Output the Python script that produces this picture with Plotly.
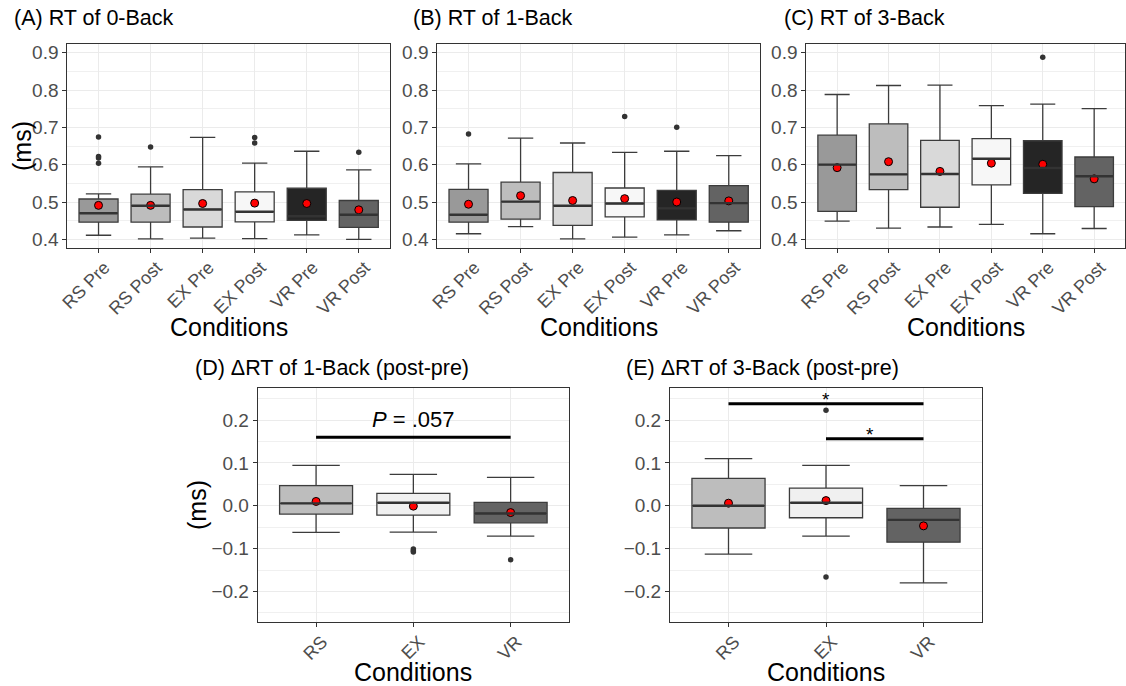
import plotly.graph_objects as go

# ---------------- data ----------------
conds6 = ["RS Pre", "RS Post", "EX Pre", "EX Post", "VR Pre", "VR Post"]
conds3 = ["RS", "EX", "VR"]

# (A) RT of 0-Back
a_lo = [0.411, 0.401, 0.403, 0.402, 0.412, 0.400]
a_q1 = [0.446, 0.446, 0.433, 0.447, 0.451, 0.432]
a_med = [0.470, 0.490, 0.480, 0.474, 0.462, 0.466]
a_q3 = [0.508, 0.521, 0.533, 0.527, 0.537, 0.504]
a_hi = [0.522, 0.594, 0.673, 0.604, 0.636, 0.586]
a_mean = [0.491, 0.491, 0.496, 0.497, 0.496, 0.479]
a_out = [[0.674, 0.622, 0.618, 0.604], [0.647], [], [0.673, 0.658], [], [0.633]]

# (B) RT of 1-Back
b_lo = [0.415, 0.434, 0.401, 0.406, 0.412, 0.423]
b_q1 = [0.446, 0.454, 0.4375, 0.460, 0.452, 0.446]
b_med = [0.466, 0.501, 0.490, 0.496, 0.483, 0.497]
b_q3 = [0.534, 0.553, 0.579, 0.5375, 0.531, 0.544]
b_hi = [0.602, 0.671, 0.658, 0.633, 0.636, 0.624]
b_mean = [0.494, 0.517, 0.504, 0.509, 0.500, 0.503]
b_out = [[0.682], [], [], [0.729], [0.700], []]

# (C) RT of 3-Back
c_lo = [0.449, 0.430, 0.433, 0.440, 0.415, 0.429]
c_q1 = [0.475, 0.533, 0.486, 0.546, 0.523, 0.4875]
c_med = [0.600, 0.574, 0.575, 0.616, 0.591, 0.569]
c_q3 = [0.679, 0.709, 0.665, 0.670, 0.664, 0.6205]
c_hi = [0.788, 0.812, 0.813, 0.758, 0.762, 0.750]
c_mean = [0.592, 0.608, 0.582, 0.604, 0.601, 0.562]
c_out = [[], [], [], [], [0.888], []]

# (D) dRT of 1-Back (post-pre)
d_lo = [-0.062, -0.0615, -0.071]
d_q1 = [-0.0195, -0.022, -0.040]
d_med = [0.0055, 0.007, -0.018]
d_q3 = [0.047, 0.029, 0.008]
d_hi = [0.094, 0.073, 0.066]
d_mean = [0.010, -0.001, -0.016]
d_out = [[], [-0.101, -0.105, -0.108], [-0.126]]

# (E) dRT of 3-Back (post-pre)
e_lo = [-0.113, -0.071, -0.180]
e_q1 = [-0.052, -0.028, -0.085]
e_med = [0.000, 0.007, -0.033]
e_q3 = [0.064, 0.041, -0.006]
e_hi = [0.110, 0.094, 0.047]
e_mean = [0.006, 0.012, -0.047]
e_out = [[], [0.2226, -0.1665], []]

# significance annotations
d_sig_y = 0.160
d_sig_label = "<i>P</i> = .057"
e_sig1_y = 0.238
e_sig2_y = 0.156

# ---------------- styling ----------------
fill6 = ["#999999", "#BDBDBD", "#D9D9D9", "#F7F7F7", "#252525", "#636363"]
fill3 = ["#BDBDBD", "#F0F0F0", "#636363"]
FONT = "Liberation Sans, Arial, Helvetica, sans-serif"
W, H = 1126, 686
BOXW = 0.75

panels = [
    dict(cats=conds6, lo=a_lo, q1=a_q1, med=a_med, q3=a_q3, hi=a_hi, mean=a_mean, out=a_out, fills=fill6,
         xd=[67.3, 390.0], yd=[43.7, 248.0], yr=[0.3768, 0.924], dt=0.1),
    dict(cats=conds6, lo=b_lo, q1=b_q1, med=b_med, q3=b_q3, hi=b_hi, mean=b_mean, out=b_out, fills=fill6,
         xd=[437.3, 760.0], yd=[43.7, 248.0], yr=[0.3768, 0.924], dt=0.1),
    dict(cats=conds6, lo=c_lo, q1=c_q1, med=c_med, q3=c_q3, hi=c_hi, mean=c_mean, out=c_out, fills=fill6,
         xd=[806.3, 1125.0], yd=[43.7, 248.0], yr=[0.3768, 0.924], dt=0.1),
    dict(cats=conds3, lo=d_lo, q1=d_q1, med=d_med, q3=d_q3, hi=d_hi, mean=d_mean, out=d_out, fills=fill3,
         xd=[257.7, 569.0], yd=[388.3, 622.3], yr=[-0.272, 0.274], dt=0.1),
    dict(cats=conds3, lo=e_lo, q1=e_q1, med=e_med, q3=e_q3, hi=e_hi, mean=e_mean, out=e_out, fills=fill3,
         xd=[670.0, 982.0], yd=[388.3, 622.3], yr=[-0.272, 0.274], dt=0.1),
]

fig = go.Figure()
layout = {}
shapes = []
for i, p in enumerate(panels):
    n = i + 1
    xa = "x" if n == 1 else f"x{n}"
    ya = "y" if n == 1 else f"y{n}"
    for j, cat in enumerate(p["cats"]):
        fig.add_trace(go.Box(
            x=[cat], q1=[p["q1"][j]], median=[p["med"][j]], q3=[p["q3"][j]],
            lowerfence=[p["lo"][j]], upperfence=[p["hi"][j]],
            fillcolor=p["fills"][j], line=dict(color="#3C3C3C", width=1.3),
            width=BOXW, whiskerwidth=0.65, boxpoints=False,
            xaxis=xa, yaxis=ya, showlegend=False, hoverinfo="skip"))
        # thicker median line, as in ggplot
        shapes.append(dict(type="line", xref=xa, yref=ya, layer="above",
                           x0=j - BOXW / 2 + 0.01, x1=j + BOXW / 2 - 0.01,
                           y0=p["med"][j], y1=p["med"][j],
                           line=dict(color="#333333", width=2.4)))
    ox, oy = [], []
    for j, cat in enumerate(p["cats"]):
        for v in p["out"][j]:
            ox.append(cat)
            oy.append(v)
    if ox:
        fig.add_trace(go.Scatter(x=ox, y=oy, mode="markers",
                                 marker=dict(color="#333333", size=5.5),
                                 xaxis=xa, yaxis=ya, showlegend=False, hoverinfo="skip"))
    fig.add_trace(go.Scatter(x=p["cats"], y=p["mean"], mode="markers",
                             marker=dict(color="#FF0000", size=8, line=dict(color="#000000", width=1)),
                             xaxis=xa, yaxis=ya, showlegend=False, hoverinfo="skip"))
    ncat = len(p["cats"])
    layout["xaxis" if n == 1 else f"xaxis{n}"] = dict(
        domain=[p["xd"][0] / W, p["xd"][1] / W], anchor=ya, automargin=False,
        type="category", categoryorder="array", categoryarray=p["cats"],
        range=[-0.6, ncat - 1 + 0.6], tickangle=-45,
        ticklabelshift=6, ticklabelstandoff=-3,
        showgrid=True, gridcolor="#EBEBEB", gridwidth=1,
        showline=True, linecolor="#333333", linewidth=1, mirror=True,
        ticks="outside", ticklen=4, tickcolor="#333333",
        tickfont=dict(family=FONT, size=18, color="#4D4D4D"), zeroline=False)
    layout["yaxis" if n == 1 else f"yaxis{n}"] = dict(
        domain=[1 - p["yd"][1] / H, 1 - p["yd"][0] / H], anchor=xa, automargin=False,
        range=p["yr"], dtick=p["dt"], tick0=0, tickformat=".1f",
        showgrid=True, gridcolor="#EBEBEB", gridwidth=1,
        minor=dict(dtick=p["dt"] / 2, tick0=0, showgrid=True, gridcolor="#F0F0F0", gridwidth=0.8, ticks=""),
        showline=True, linecolor="#333333", linewidth=1, mirror=True,
        ticks="outside", ticklen=4, tickcolor="#333333",
        tickfont=dict(family=FONT, size=19, color="#4D4D4D"), zeroline=False)

shapes += [
    dict(type="line", xref="x4", yref="y4", x0=0, x1=2, y0=d_sig_y, y1=d_sig_y, line=dict(color="black", width=3)),
    dict(type="line", xref="x5", yref="y5", x0=0, x1=2, y0=e_sig1_y, y1=e_sig1_y, line=dict(color="black", width=3)),
    dict(type="line", xref="x5", yref="y5", x0=1, x1=2, y0=e_sig2_y, y1=e_sig2_y, line=dict(color="black", width=3)),
]

ann = []
def txt(x, y, s, size, xanchor="center", angle=0, color="black", xref="paper", yref="paper"):
    ann.append(dict(x=x, y=y, xref=xref, yref=yref, text=s, showarrow=False, xanchor=xanchor,
                    yanchor="middle", textangle=angle, font=dict(family=FONT, size=size, color=color)))

titles = [("(A) RT of 0-Back", 12, 18), ("(B) RT of 1-Back", 411, 18), ("(C) RT of 3-Back", 782, 18),
          ("(D) ΔRT of 1-Back (post-pre)", 193, 368), ("(E) ΔRT of 3-Back (post-pre)", 624, 368)]
for s, x, y in titles:
    txt(x / W, 1 - y / H, s, 21.5, xanchor="left")
for p, yy in zip(panels, [327, 327, 327, 672, 672]):
    txt((p["xd"][0] + p["xd"][1]) / 2 / W, 1 - yy / H, "Conditions", 25)
txt(22 / W, 1 - 146 / H, "(ms)", 25, angle=-90)
txt(197 / W, 1 - 505 / H, "(ms)", 25, angle=-90)

ann.append(dict(x=1, y=d_sig_y, xref="x4", yref="y4", text=d_sig_label, showarrow=False, yanchor="bottom",
                yshift=3, font=dict(family=FONT, size=22, color="black")))
ann.append(dict(x=1, y=e_sig1_y, xref="x5", yref="y5", text="*", showarrow=False, yanchor="bottom",
                yshift=-8, font=dict(family=FONT, size=19, color="black")))
ann.append(dict(x=1.45, y=e_sig2_y, xref="x5", yref="y5", text="*", showarrow=False, yanchor="bottom",
                yshift=-8, font=dict(family=FONT, size=19, color="black")))

fig.update_layout(width=W, height=H, margin=dict(l=0, r=0, t=0, b=0, pad=0), autosize=False,
                  paper_bgcolor="white", plot_bgcolor="white", showlegend=False,
                  boxmode="overlay", shapes=shapes, annotations=ann, **layout)

fig.write_html("out.html", config={"displayModeBar": False},
               post_script="document.body.style.margin='0';document.body.style.padding='0';"
                           "document.body.style.overflow='hidden';")
